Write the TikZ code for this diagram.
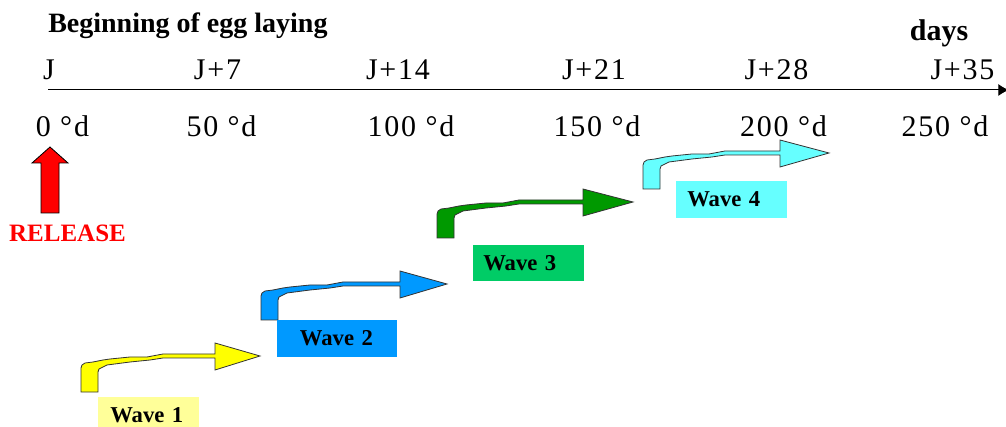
\documentclass[tikz,border=0pt]{standalone}
\usepackage{fontspec}
\setmainfont{Liberation Serif}
\newfontfamily\axisfont[LetterSpace=6]{Liberation Serif}
\usetikzlibrary{arrows.meta}

\definecolor{waveyellow}{HTML}{FFFF00}
\definecolor{lblyellow}{HTML}{FFFF99}
\definecolor{waveblue}{HTML}{0099FF}
\definecolor{wavegreen}{HTML}{009900}
\definecolor{lblgreen}{HTML}{00CC66}
\definecolor{wavecyan}{HTML}{66FFFF}

\tikzset{
  headtext/.style={font=\bfseries\fontsize{21}{24}\selectfont, inner sep=0pt},
  ticktext/.style={font=\axisfont\fontsize{22.5}{26}\selectfont, inner sep=0pt, anchor=base},
  wavebody/.style={draw=black!80, line width=0.6pt},
  wlabel/.style={font=\bfseries\fontsize{17}{19}\selectfont, inner ysep=0pt,
                 minimum height=27.75pt, align=left, anchor=west}
}

% bent wave arrow: x, y of stub corner, head base, tip, colour
\newcommand{\wavearrow}[5]{%
\begin{scope}[shift={(#1,#2)}]
\draw[wavebody, fill=#5] (0,0) -- (0,-24) -- (1,-27) -- (4,-29) -- (12,-30) -- (22,-32) --
      (29,-33) -- (49,-35) -- (66,-35) -- (82,-38) -- (#3,-38) -- (#3,-49) -- (#4,-36) --
      (#3,-22) -- (#3,-34) -- (82,-34) -- (69,-32) -- (49,-30) -- (26,-27) -- (18,-23) --
      (17,-20) -- (17,0) -- cycle;
\end{scope}}

\begin{document}
\begin{tikzpicture}[x=0.75pt, y=-0.75pt]
\useasboundingbox (0,0) rectangle (1006,427);
\clip (0,0) rectangle (1006,427);

\node[headtext, anchor=base west] (title) at (48,33) {Beginning of egg laying};
\node[headtext, font=\bfseries\fontsize{22.5}{26}\selectfont, anchor=base] (days) at (939,41) {days};

\coordinate (axisstart) at (48,90);
\coordinate (axisend) at (1009,90);
\draw[line width=0.75pt, -{Latex[length=8pt, width=9pt]}] (axisstart) -- (axisend);

\foreach \dlbl/\dx/\glbl/\gx [count=\i] in {J/49/0/62.5, J+7/217.5/50/221.5,
    J+14/398/100/411, J+21/594/150/597, J+28/776.5/200/783.5, J+35/962.5/250/945}{
  \node[ticktext] (day\i) at (\dx,80) {\dlbl};
  \node[ticktext] (deg\i) at (\gx,137) {\glbl\ °d};
}

\draw[fill=red, draw=black, line width=0.6pt] (41,213) -- (41,163) -- (32,163) -- (50,147) --
      (68,163) -- (59,163) -- (59,213) -- cycle;
\node[headtext, font=\bfseries\fontsize{18.75}{22}\selectfont, text=red, anchor=base] (release)
      at (67.5,242) {RELEASE};

\wavearrow{81}{392}{134}{179}{waveyellow}
\wavearrow{261}{320}{139}{186}{waveblue}
\wavearrow{437}{238}{146}{196}{wavegreen}
\wavearrow{643}{189}{137}{186}{wavecyan}

\node[wlabel, fill=lblyellow, text width=57.75pt, inner xsep=9pt] (wave1) at (98,415.5) {Wave 1};
\node[wlabel, fill=waveblue, text width=56pt, inner xsep=17pt] (wave2) at (277,338.5) {Wave 2};
\node[wlabel, fill=lblgreen, text width=68.25pt, inner xsep=7.5pt, minimum height=27pt] (wave3)
      at (473,263) {Wave 3};
\node[wlabel, fill=wavecyan, text width=66.75pt, inner xsep=8.25pt] (wave4) at (676,199.5) {Wave 4};
\end{tikzpicture}
\end{document}
